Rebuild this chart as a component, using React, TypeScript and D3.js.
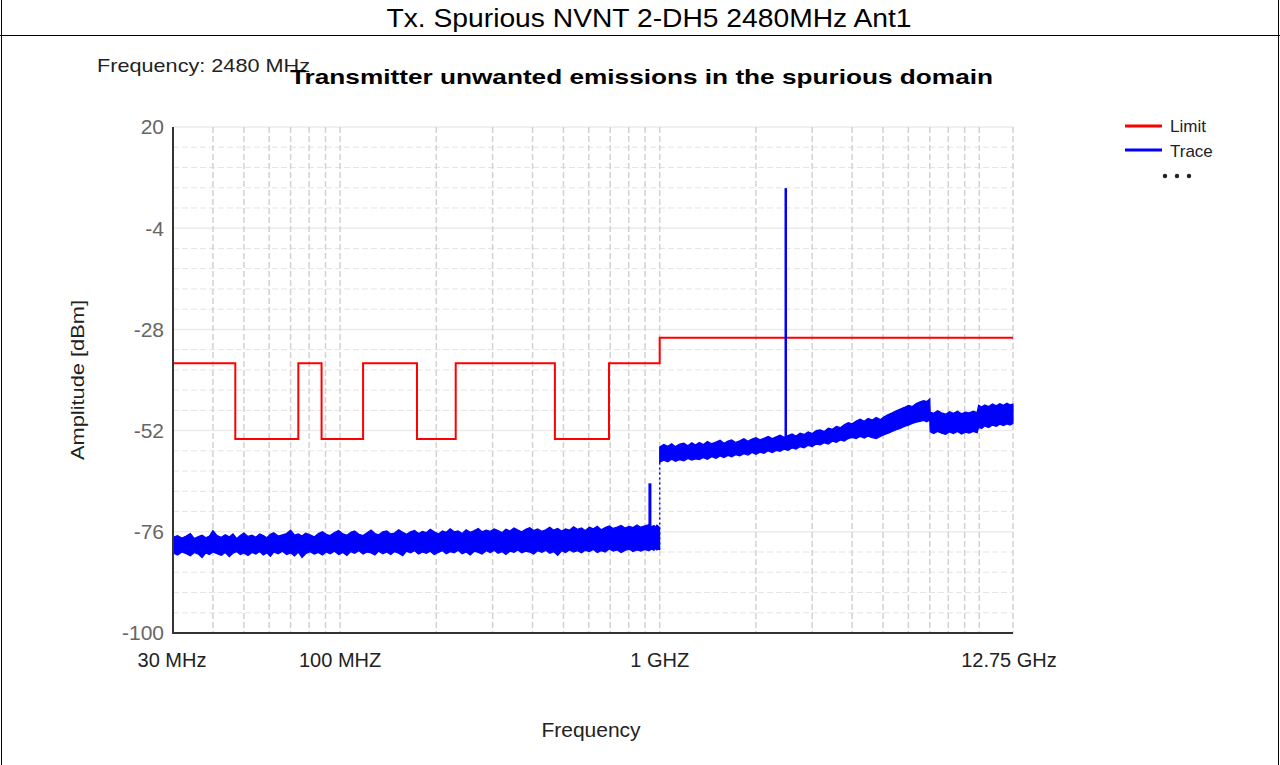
import React from "react";
import * as d3 from "d3";

// ---------- data ----------
const yTicks = [20, -4, -28, -52, -76, -100];
const xTickFreqs = [30, 100, 1000, 12750];
const xTickLabels = ["30 MHz", "100 MHZ", "1 GHZ", "12.75 GHz"];
const gridFreqs = [
  40, 50, 60, 70, 80, 90, 100, 200, 300, 400, 500, 600, 700, 800, 900, 1000,
  2000, 3000, 4000, 5000, 6000, 7000, 8000, 9000, 10000, 12750,
];

// limit (step after)
const limitFreqs = [30, 47, 74, 87.5, 118, 174, 230, 470, 694, 1000, 12750];
const limitLevels = [-36, -54, -36, -54, -36, -54, -36, -54, -36, -30, -30];

// trace envelope, 30 MHz - 1 GHz (MHz, dBm)
const traceAFreqs = [
  30, 31, 32, 33, 34, 35, 36, 37, 38, 39,
  40, 41.2, 42.5, 43.7, 45, 46.2, 47.5, 48.7, 50, 51.5,
  53, 54.5, 56, 57.5, 59, 60.5, 62, 64, 66, 68,
  70, 72, 74, 76, 78, 80.5, 83, 85.5, 88, 90.5,
  93, 96, 99, 102, 105, 108, 111, 114.5, 118, 121.5,
  125, 128.5, 132, 136, 140, 144, 148, 152.5, 157, 161.5,
  166, 171, 176, 181, 186, 191.5, 197, 203, 209, 215,
  221, 227.5, 234, 241, 248, 255.5, 263, 270.5, 278, 286.5,
  295, 303.5, 312, 321, 330, 340, 350, 360, 370, 381,
  392, 403.5, 415, 427.5, 440, 453, 466, 479.5, 493, 507.5,
  522, 537.5, 553, 569, 585, 602.5, 620, 638, 656, 675.5,
  695, 715.5, 736, 757.5, 779, 802, 825, 849, 873, 899,
  925, 942, 960, 970, 980, 990, 999,
];
const traceAUpper = [
  -77.3, -76.9, -77.5, -77.0, -76.4, -77.6, -77.1, -76.8, -77.4, -77.0,
  -75.7, -76.9, -77.3, -76.7, -77.2, -76.5, -77.6, -76.9, -76.3, -77.1,
  -76.8, -77.3, -76.5, -76.9, -77.4, -76.6, -76.2, -77.0, -76.7, -76.4,
  -75.6, -76.8, -76.5, -77.0, -76.3, -76.7, -77.2, -76.4, -76.0, -76.6,
  -76.9, -76.2, -75.7, -76.5, -76.8, -76.1, -75.8, -76.6, -76.9, -76.2,
  -75.6, -76.4, -76.7, -76.0, -75.8, -76.5, -76.3, -75.5, -76.1, -76.6,
  -76.0, -75.7, -76.4, -75.9, -76.2, -75.4, -76.0, -76.5, -75.8, -76.1,
  -75.3, -76.0, -75.8, -76.4, -75.5, -76.1, -75.7, -75.2, -76.0, -75.6,
  -75.9, -75.3, -75.7, -76.2, -75.4, -75.8, -75.1, -75.6, -76.0, -75.4,
  -75.0, -75.7, -75.3, -75.9, -75.5, -74.9, -75.6, -75.2, -75.8, -75.3,
  -75.6, -74.8, -75.4, -75.1, -75.7, -74.9, -75.3, -74.7, -75.5, -75.0,
  -74.6, -75.2, -74.9, -74.5, -75.1, -74.7, -75.0, -74.4, -74.9, -74.6,
  -74.3, -74.8, -74.5, -74.9, -74.4, -74.7, -75.0,
];
const traceALower = [
  -81.0, -81.5, -80.8, -81.2, -81.7, -80.9, -81.3, -82.1, -81.0, -81.4,
  -80.8, -81.2, -81.6, -80.9, -81.9, -81.1, -80.7, -81.4, -81.0, -81.6,
  -80.9, -81.3, -80.7, -81.5, -81.0, -81.8, -80.8, -81.2, -80.6, -81.4,
  -81.0, -81.7, -80.8, -82.1, -81.2, -80.7, -81.3, -80.9, -81.5, -80.8,
  -81.2, -80.6, -81.4, -80.9, -81.6, -80.7, -81.1, -80.5, -81.3, -80.8,
  -81.0, -81.5, -80.6, -81.2, -80.8, -81.4, -80.7, -81.1, -81.7, -80.6,
  -81.0, -80.5, -81.3, -80.8, -81.1, -80.6, -81.4, -80.9, -80.5, -81.2,
  -80.7, -81.0, -80.4, -81.2, -80.8, -81.5, -80.6, -80.9, -81.3, -80.5,
  -80.9, -80.4, -81.1, -80.7, -81.4, -80.6, -80.9, -80.3, -81.0, -80.6,
  -80.8, -81.3, -80.5, -80.9, -80.4, -81.1, -80.7, -81.6, -80.5, -80.9,
  -80.3, -80.8, -80.5, -81.0, -80.4, -80.7, -80.2, -80.9, -80.5, -80.8,
  -80.1, -80.6, -80.3, -80.9, -80.4, -80.1, -80.7, -80.3, -80.6, -80.2,
  -80.5, -80.1, -80.4, -80.0, -80.3, -80.1, -80.2,
];

// trace envelope, 1 GHz - 12.75 GHz (MHz, dBm)
const traceBFreqs = [
  1000, 1030, 1060, 1090, 1120, 1155, 1190, 1225, 1260, 1295,
  1330, 1370, 1410, 1455, 1500, 1545, 1590, 1635, 1680, 1730,
  1780, 1835, 1890, 1945, 2000, 2060, 2120, 2185, 2250, 2315,
  2380, 2450, 2520, 2595, 2670, 2750, 2830, 2915, 3000, 3090,
  3180, 3275, 3370, 3470, 3570, 3675, 3780, 3890, 4000, 4120,
  4240, 4365, 4490, 4625, 4760, 4900, 5040, 5190, 5340, 5500,
  5660, 5830, 6000, 6175, 6350, 6525, 6700, 6850, 7000, 7020,
  7200, 7400, 7620, 7850, 8070, 8300, 8550, 8800, 9050, 9300,
  9570, 9850, 9950, 10170, 10400, 10700, 11000, 11300, 11600, 11900,
  12200, 12480, 12750,
];
const traceBUpper = [
  -55.9, -55.3, -55.7, -55.1, -55.8, -55.2, -55.0, -55.6, -54.9, -55.4,
  -54.8, -55.3, -54.6, -55.1, -54.7, -54.3, -55.0, -54.5, -54.2, -54.8,
  -54.4, -53.9, -54.5, -54.0, -53.7, -54.2, -53.8, -53.4, -53.9, -53.5,
  -53.1, -53.6, -53.2, -52.8, -53.3, -52.6, -52.9, -52.3, -52.7, -52.0,
  -51.8, -52.2, -51.4, -51.7, -51.0, -51.3, -50.6, -50.1, -50.4, -49.7,
  -49.3, -49.8, -49.1, -49.5, -48.9, -49.4, -48.7, -48.2, -47.8, -47.3,
  -46.9, -46.5, -46.0, -46.3, -45.6, -45.2, -44.9, -45.1, -44.5, -47.6,
  -47.9, -47.3, -47.8, -48.1, -47.5, -47.9, -47.4, -48.0, -47.6, -47.8,
  -47.4, -47.7, -46.0, -46.4, -45.9, -46.3, -45.7, -46.1, -45.6, -46.0,
  -45.5, -45.9, -45.7,
];
const traceBLower = [
  -59.5, -59.0, -59.4, -58.8, -59.3, -58.9, -59.2, -58.6, -59.0, -58.7,
  -58.9, -58.4, -58.8, -58.2, -58.6, -58.0, -58.4, -57.9, -58.2, -57.7,
  -58.0, -57.5, -57.8, -57.2, -57.6, -57.1, -57.4, -56.8, -57.2, -56.7,
  -56.9, -56.4, -56.7, -56.1, -56.4, -55.8, -56.1, -55.5, -55.8, -55.2,
  -55.4, -54.9, -55.2, -54.5, -54.8, -54.2, -54.5, -53.9, -53.6, -53.9,
  -53.4, -53.8, -53.3, -53.7, -53.9, -53.4, -53.0, -52.6, -52.2, -51.8,
  -51.5, -51.0, -50.7, -50.3, -50.0, -49.8, -49.6, -49.9, -49.5, -52.3,
  -52.7, -52.2, -52.6, -52.9, -52.3, -52.7, -52.2, -52.8, -52.4, -52.6,
  -52.2, -52.5, -51.2, -51.5, -50.9, -51.3, -50.7, -51.0, -50.5, -50.8,
  -50.4, -50.7, -50.3,
];

// spikes
const spikeFreqs = [932, 2480];
const spikeBases = [-79.0, -55.0];
const spikeTops = [-64.5, 5.5];

// ---------- layout ----------
const W = 1280;
const H = 765;
const PL = 173, PR = 1013, PT = 127, PB = 633;
const FONT = "'Liberation Sans', Arial, sans-serif";

export default function App() {
  const x = d3.scaleLog().domain([30, 12750]).range([PL, PR]);
  const y = d3.scaleLinear().domain([-100, 20]).range([PB, PT]);

  const minorY: number[] = [];
  for (let i = 0; i < yTicks.length - 1; i++) {
    for (let k = 1; k < 5; k++) minorY.push(yTicks[i] - k * 4.8);
  }

  const limitPath = d3
    .line<number>()
    .x((_, i) => x(limitFreqs[i]))
    .y((d) => y(d))
    .curve(d3.curveStepAfter)(limitLevels) as string;

  const band = (fs: number[], up: number[], lo: number[]) =>
    d3
      .area<number>()
      .x((f) => x(f))
      .y0((_, i) => y(lo[i]))
      .y1((_, i) => y(up[i]))(fs) as string;

  const bandA = band(traceAFreqs, traceAUpper, traceALower);
  const bandB = band(traceBFreqs, traceBUpper, traceBLower);

  return (
    <svg
      width={W}
      height={H}
      style={{ position: "absolute", left: 0, top: 0, background: "#fff" }}
      fontFamily={FONT}
    >
      <rect x={0} y={0} width={W} height={H} fill="#fff" />
      {/* frame */}
      <line x1={1.5} y1={0} x2={1.5} y2={H} stroke="#000" strokeWidth={1} />
      <line x1={1278.5} y1={0} x2={1278.5} y2={H} stroke="#000" strokeWidth={1} />
      <line x1={0} y1={35.5} x2={W} y2={35.5} stroke="#000" strokeWidth={1} />
      <text x={649} y={27} textAnchor="middle" fontSize={25} fill="#000" textLength={525} lengthAdjust="spacingAndGlyphs">
        Tx. Spurious NVNT 2-DH5 2480MHz Ant1
      </text>

      {/* grid horizontal */}
      {minorY.map((v, i) => (
        <line key={"my" + i} x1={PL} x2={PR} y1={y(v)} y2={y(v)} stroke="#e4e4e4" strokeWidth={1} strokeDasharray="6,3" />
      ))}
      {yTicks.slice(0, -1).map((v) => (
        <line key={"My" + v} x1={PL} x2={PR} y1={y(v)} y2={y(v)} stroke="#ebebeb" strokeWidth={1.5} />
      ))}
      {/* grid vertical */}
      {gridFreqs.map((f) => (
        <line key={"gx" + f} x1={x(f)} x2={x(f)} y1={PT} y2={PB} stroke="#d2d2d2" strokeWidth={1.5} strokeDasharray="6,3" />
      ))}

      {/* limit */}
      <path d={limitPath} fill="none" stroke="#ff0000" strokeWidth={2} />

      {/* trace */}
      <path d={bandA} fill="#0000ff" stroke="#0000ff" strokeWidth={1.2} strokeLinejoin="miter" />
      <path d={bandB} fill="#0000ff" stroke="#0000ff" strokeWidth={1.2} strokeLinejoin="miter" />
      <line
        x1={x(1000)} x2={x(1000)}
        y1={y(traceALower[traceALower.length - 1])} y2={y(traceBLower[0])}
        stroke="#0000ff" strokeWidth={1.5} strokeDasharray="2,3"
      />
      {spikeFreqs.map((f, i) => (
        <line key={"sp" + i} x1={x(f)} x2={x(f)} y1={y(spikeBases[i])} y2={y(spikeTops[i])} stroke="#0000ff" strokeWidth={i === 0 ? 3 : 2.5} />
      ))}

      {/* axes */}
      <line x1={PL} x2={PL} y1={PT} y2={PB + 1} stroke="#333" strokeWidth={2} />
      <line x1={PL} x2={PR} y1={PB} y2={PB} stroke="#333" strokeWidth={2} />
      {yTicks.map((v) => (
        <text key={"yt" + v} x={164} y={y(v)} dy="0.35em" textAnchor="end" fontSize={21} fill="#666">
          {v}
        </text>
      ))}
      {xTickFreqs.map((f, i) => (
        <text key={"xt" + f} x={x(f) - (i === 3 ? 4 : i === 0 ? 1 : 0)} y={667} textAnchor="middle" fontSize={20} fill="#222">
          {xTickLabels[i]}
        </text>
      ))}

      {/* titles */}
      <text x={97} y={72} fontSize={19} fill="#222" textLength={213} lengthAdjust="spacingAndGlyphs">
        Frequency: 2480 MHz
      </text>
      <text x={290} y={84} fontSize={21} fontWeight="bold" fill="#000" textLength={703} lengthAdjust="spacingAndGlyphs">
        Transmitter unwanted emissions in the spurious domain
      </text>
      <text x={591} y={737} textAnchor="middle" fontSize={21} fill="#222">
        Frequency
      </text>
      <text
        transform={`translate(84,380) rotate(-90)`}
        textAnchor="middle" fontSize={19} fill="#222" textLength={160} lengthAdjust="spacingAndGlyphs"
      >
        Amplitude [dBm]
      </text>

      {/* legend */}
      <line x1={1125} x2={1162} y1={126} y2={126} stroke="#ff0000" strokeWidth={3} />
      <text x={1170} y={132} fontSize={17} fill="#222">Limit</text>
      <line x1={1125} x2={1162} y1={150} y2={150} stroke="#0000ff" strokeWidth={3} />
      <text x={1170} y={157} fontSize={17} fill="#222">Trace</text>
      {[1165, 1177, 1189].map((cx) => (
        <circle key={"d" + cx} cx={cx} cy={176} r={2.2} fill="#222" />
      ))}
    </svg>
  );
}
